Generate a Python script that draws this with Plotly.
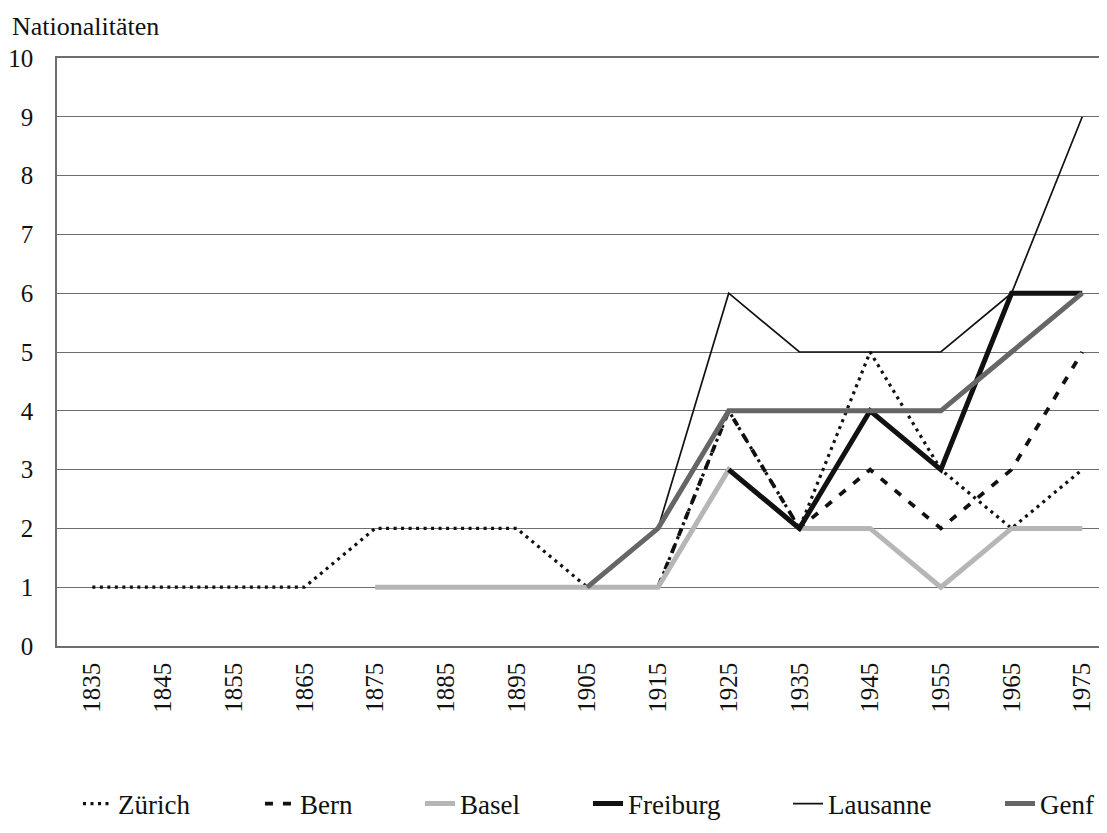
import plotly.graph_objects as go

years = ["1835", "1845", "1855", "1865", "1875", "1885", "1895", "1905",
         "1915", "1925", "1935", "1945", "1955", "1965", "1975"]

zurich   = [1, 1, 1, 1, 2, 2, 2, 1, 1, 4, 2, 5, 3, 2, 3]
bern     = [None, None, None, None, None, None, None, 1, 1, 4, 2, 3, 2, 3, 5]
basel    = [None, None, None, None, 1, 1, 1, 1, 1, 3, 2, 2, 1, 2, 2]
freiburg = [None, None, None, None, None, None, None, None, None, 3, 2, 4, 3, 6, 6]
lausanne = [None, None, None, None, None, None, None, 1, 2, 6, 5, 5, 5, 6, 9]
genf     = [None, None, None, None, None, None, None, 1, 2, 4, 4, 4, 4, 5, 6]

y_ticks = list(range(0, 11))

series = [
    ("Zürich", zurich, dict(color="#111111", width=3.2, dash="3px,4.5px")),
    ("Bern", bern, dict(color="#111111", width=3.8, dash="8px,10px")),
    ("Basel", basel, dict(color="#b6b6b6", width=5)),
    ("Freiburg", freiburg, dict(color="#111111", width=5)),
    ("Lausanne", lausanne, dict(color="#111111", width=1.7)),
    ("Genf", genf, dict(color="#666666", width=5)),
]

legend_x = [0.0200, 0.1933, 0.3457, 0.5057, 0.6962, 0.8981]

font = "Liberation Serif"

fig = go.Figure()
layout_legends = {}
for i, (name, vals, line) in enumerate(series):
    lname = "legend" if i == 0 else f"legend{i + 1}"
    fig.add_trace(go.Scatter(x=years, y=vals, name=name, mode="lines",
                             line=line, connectgaps=False, legend=lname))
    layout_legends[lname] = dict(
        orientation="h", x=legend_x[i], xanchor="left", y=-0.2687, yanchor="middle",
        font=dict(size=27, family=font, color="#111111"),
        bgcolor="rgba(0,0,0,0)")

fig.update_layout(
    width=1107, height=833,
    margin=dict(l=49, r=8, t=50, b=195, autoexpand=False),
    paper_bgcolor="white", plot_bgcolor="white",
    font=dict(family=font, color="#111111"),
    showlegend=True,
    xaxis=dict(type="category", range=[-0.5, 14.35], tickangle=-90,
               tickfont=dict(size=25, family=font), showgrid=False,
               showline=True, linecolor="#6e6e6e", linewidth=1.5, mirror=True,
               ticks="", ticklabelstandoff=5),
    yaxis=dict(range=[0, 10], tickvals=y_ticks, tickfont=dict(size=25, family=font),
               showgrid=True, gridcolor="#6e6e6e", gridwidth=1.4,
               showline=True, linecolor="#6e6e6e", linewidth=1.5,
               zeroline=False, ticks="", ticklabelstandoff=17),
    annotations=[dict(text="Nationalitäten", xref="paper", yref="paper",
                      x=0, xshift=-47, y=1, yshift=32, xanchor="left", yanchor="middle",
                      showarrow=False, font=dict(size=26, family=font))],
    **layout_legends,
)

fig.write_html("out.html")
